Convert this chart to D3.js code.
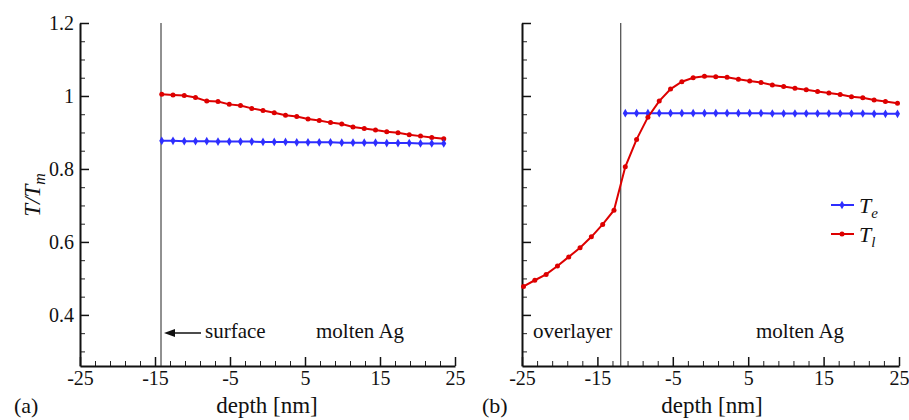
<!DOCTYPE html>
<html>
<head>
<meta charset="utf-8">
<script src="https://cdn.jsdelivr.net/npm/d3@7"></script>
<style>
  body { margin: 0; background: #fff; }
  svg text { font-family: "Liberation Serif", "DejaVu Serif", serif; fill: #111; }
</style>
</head>
<body>
<svg id="chart" width="909" height="420"></svg>
<script>
// panel (a) : surface
const depthA = [-14.1, -12.6, -11.1, -9.6, -8.1, -6.6, -5.1, -3.6, -2.1, -0.6, 0.9, 2.4, 3.9,
  5.4, 6.9, 8.4, 9.9, 11.4, 12.9, 14.4, 15.9, 17.4, 18.9, 20.4, 21.9, 23.5];
const teA = [0.877, 0.877, 0.876, 0.876, 0.876, 0.875, 0.875, 0.875, 0.875, 0.874, 0.874, 0.874, 0.873,
  0.873, 0.873, 0.873, 0.872, 0.872, 0.872, 0.872, 0.871, 0.871, 0.871, 0.870, 0.870, 0.870];
const tlA = [1.005, 1.003, 1.001, 0.996, 0.986, 0.985, 0.977, 0.974, 0.966, 0.960, 0.954, 0.947, 0.944,
  0.937, 0.933, 0.927, 0.923, 0.915, 0.911, 0.907, 0.902, 0.899, 0.894, 0.890, 0.886, 0.883];

// panel (b) : overlayer
const depthTeB = [-11.3, -9.8, -8.3, -6.8, -5.3, -3.8, -2.3, -0.8, 0.7, 2.2, 3.7, 5.2, 6.7,
  8.2, 9.7, 11.2, 12.7, 14.2, 15.7, 17.2, 18.7, 20.2, 21.7, 23.2, 24.8];
const teB = [0.953, 0.953, 0.953, 0.953, 0.953, 0.953, 0.953, 0.953, 0.953, 0.953, 0.953, 0.953, 0.953,
  0.952, 0.952, 0.952, 0.952, 0.952, 0.952, 0.952, 0.952, 0.952, 0.951, 0.951, 0.951];
const depthTlB = [-24.8, -23.3, -21.8, -20.3, -18.8, -17.3, -15.8, -14.3, -12.8,
  -11.3, -9.8, -8.3, -6.8, -5.3, -3.8, -2.3, -0.8, 0.7, 2.2, 3.7, 5.2, 6.7,
  8.2, 9.7, 11.2, 12.7, 14.2, 15.7, 17.2, 18.7, 20.2, 21.7, 23.2, 24.8];
const tlB = [0.478, 0.495, 0.511, 0.534, 0.559, 0.584, 0.614, 0.648, 0.687,
  0.806, 0.881, 0.942, 0.986, 1.019, 1.039, 1.050, 1.054, 1.053, 1.051, 1.046, 1.041, 1.037,
  1.030, 1.026, 1.021, 1.017, 1.012, 1.008, 1.004, 0.998, 0.995, 0.989, 0.985, 0.980];

const xMajor = [-25, -15, -5, 5, 15, 25];
const xMinor = [-23, -21, -19, -17, -13, -11, -9, -7, -3, -1, 1, 3, 7, 9, 11, 13, 17, 19, 21, 23];
const yMajor = [0.4, 0.6, 0.8, 1, 1.2];
const yMinor = [0.3, 0.35, 0.45, 0.5, 0.55, 0.65, 0.7, 0.75, 0.85, 0.9, 0.95, 1.05, 1.1, 1.15];

const blue = "#2e2eff";
const red = "#dd0000";

const svg = d3.select("#chart");

const y = d3.scaleLinear().domain([0.26, 1.2]).range([366, 23]);

function panel(x0, x1, showYLabels, boundary) {
  const x = d3.scaleLinear().domain([-25, 25]).range([x0, x1]);
  const g = svg.append("g");

  // petites graduations
  g.append("g").attr("transform", `translate(0,${y.range()[0]})`)
    .call(d3.axisBottom(x).tickValues(xMinor).tickSize(-5).tickSizeOuter(0).tickFormat(""))
    .call(a => a.select(".domain").remove());
  g.append("g").attr("transform", `translate(${x0},0)`)
    .call(d3.axisLeft(y).tickValues(yMinor).tickSize(-5).tickSizeOuter(0).tickFormat(""))
    .call(a => a.select(".domain").remove());

  // graduations principales
  const xa = g.append("g").attr("transform", `translate(0,${y.range()[0]})`)
    .call(d3.axisBottom(x).tickValues(xMajor).tickSize(-9).tickSizeOuter(0).tickPadding(5)
      .tickFormat(d => String(d)));
  const ya = g.append("g").attr("transform", `translate(${x0},0)`)
    .call(d3.axisLeft(y).tickValues(yMajor).tickSize(-9).tickSizeOuter(0).tickPadding(6)
      .tickFormat(d => showYLabels ? String(d) : ""));
  [xa, ya].forEach(a => {
    a.selectAll("text").style("font-size", "20px").attr("fill", "#111")
      .style("font-family", '"Liberation Serif", serif');
    a.selectAll("line").attr("stroke", "#111").attr("stroke-width", 1.5);
    a.select(".domain").attr("stroke", "#111").attr("stroke-width", 2);
  });
  g.selectAll("line").filter(function() { return !this.getAttribute("stroke-width"); })
    .attr("stroke", "#222");

  // ligne de séparation
  g.append("line")
    .attr("x1", x(boundary)).attr("x2", x(boundary))
    .attr("y1", y(1.2)).attr("y2", y.range()[0])
    .attr("stroke", "#222").attr("stroke-width", 1);

  return { g, x };
}

function series(p, xs, ys, color, shape) {
  const pts = xs.map((d, i) => [d, ys[i]]);
  const line = d3.line().x(d => p.x(d[0])).y(d => y(d[1]));
  p.g.append("path").datum(pts)
    .attr("d", line).attr("fill", "none")
    .attr("stroke", color).attr("stroke-width", 2);
  if (shape === "diamond") {
    p.g.selectAll(null).data(pts).enter().append("path")
      .attr("d", d3.symbol(d3.symbolDiamond, 22))
      .attr("transform", d => `translate(${p.x(d[0])},${y(d[1])})`)
      .attr("fill", color);
  } else {
    p.g.selectAll(null).data(pts).enter().append("circle")
      .attr("cx", d => p.x(d[0])).attr("cy", d => y(d[1]))
      .attr("r", 2.5).attr("fill", color);
  }
}

const pa = panel(80, 455, true, -14.2);
series(pa, depthA, tlA, red, "circle");
series(pa, depthA, teA, blue, "diamond");

const pb = panel(522, 899, false, -11.9);
series(pb, depthTeB, teB, blue, "diamond");
series(pb, depthTlB, tlB, red, "circle");

// flèche "surface"
svg.append("line")
  .attr("x1", 201).attr("x2", 172).attr("y1", 333).attr("y2", 333)
  .attr("stroke", "#111").attr("stroke-width", 1.5);
svg.append("path").attr("d", "M164,333 L175,329 L175,337 Z").attr("fill", "#111");

svg.append("text").attr("x", 205).attr("y", 338).style("font-size", "21px").text("surface");
svg.append("text").attr("x", 316).attr("y", 338).style("font-size", "21px").text("molten Ag");
svg.append("text").attr("x", 533).attr("y", 338).style("font-size", "21px").text("overlayer");
svg.append("text").attr("x", 756).attr("y", 338).style("font-size", "21px").text("molten Ag");

// titres des axes
svg.append("text").attr("x", 267).attr("y", 413).attr("text-anchor", "middle")
  .style("font-size", "23px").text("depth [nm]");
svg.append("text").attr("x", 712).attr("y", 413).attr("text-anchor", "middle")
  .style("font-size", "23px").text("depth [nm]");
svg.append("text").attr("x", 14).attr("y", 413).style("font-size", "22px").text("(a)");
svg.append("text").attr("x", 482).attr("y", 413).style("font-size", "22px").text("(b)");

const yt = svg.append("text")
  .attr("transform", "translate(40,195) rotate(-90)")
  .attr("text-anchor", "middle")
  .style("font-size", "23px").style("font-style", "italic");
yt.append("tspan").text("T/T");
yt.append("tspan").attr("dy", 5).style("font-size", "16px").text("m");

// légende
const legend = [["e", blue, "diamond", 205], ["l", red, "circle", 234]];
legend.forEach(([sub, color, shape, ly]) => {
  svg.append("line").attr("x1", 831).attr("x2", 854).attr("y1", ly).attr("y2", ly)
    .attr("stroke", color).attr("stroke-width", 2);
  if (shape === "diamond") {
    svg.append("path").attr("d", d3.symbol(d3.symbolDiamond, 22))
      .attr("transform", `translate(842,${ly})`).attr("fill", color);
  } else {
    svg.append("circle").attr("cx", 842).attr("cy", ly).attr("r", 2.5).attr("fill", color);
  }
  const t = svg.append("text").attr("x", 859).attr("y", ly + 8)
    .style("font-size", "22px").style("font-style", "italic");
  t.append("tspan").text("T");
  t.append("tspan").attr("dy", 5).style("font-size", "15px").text(sub);
});
</script>
</body>
</html>
